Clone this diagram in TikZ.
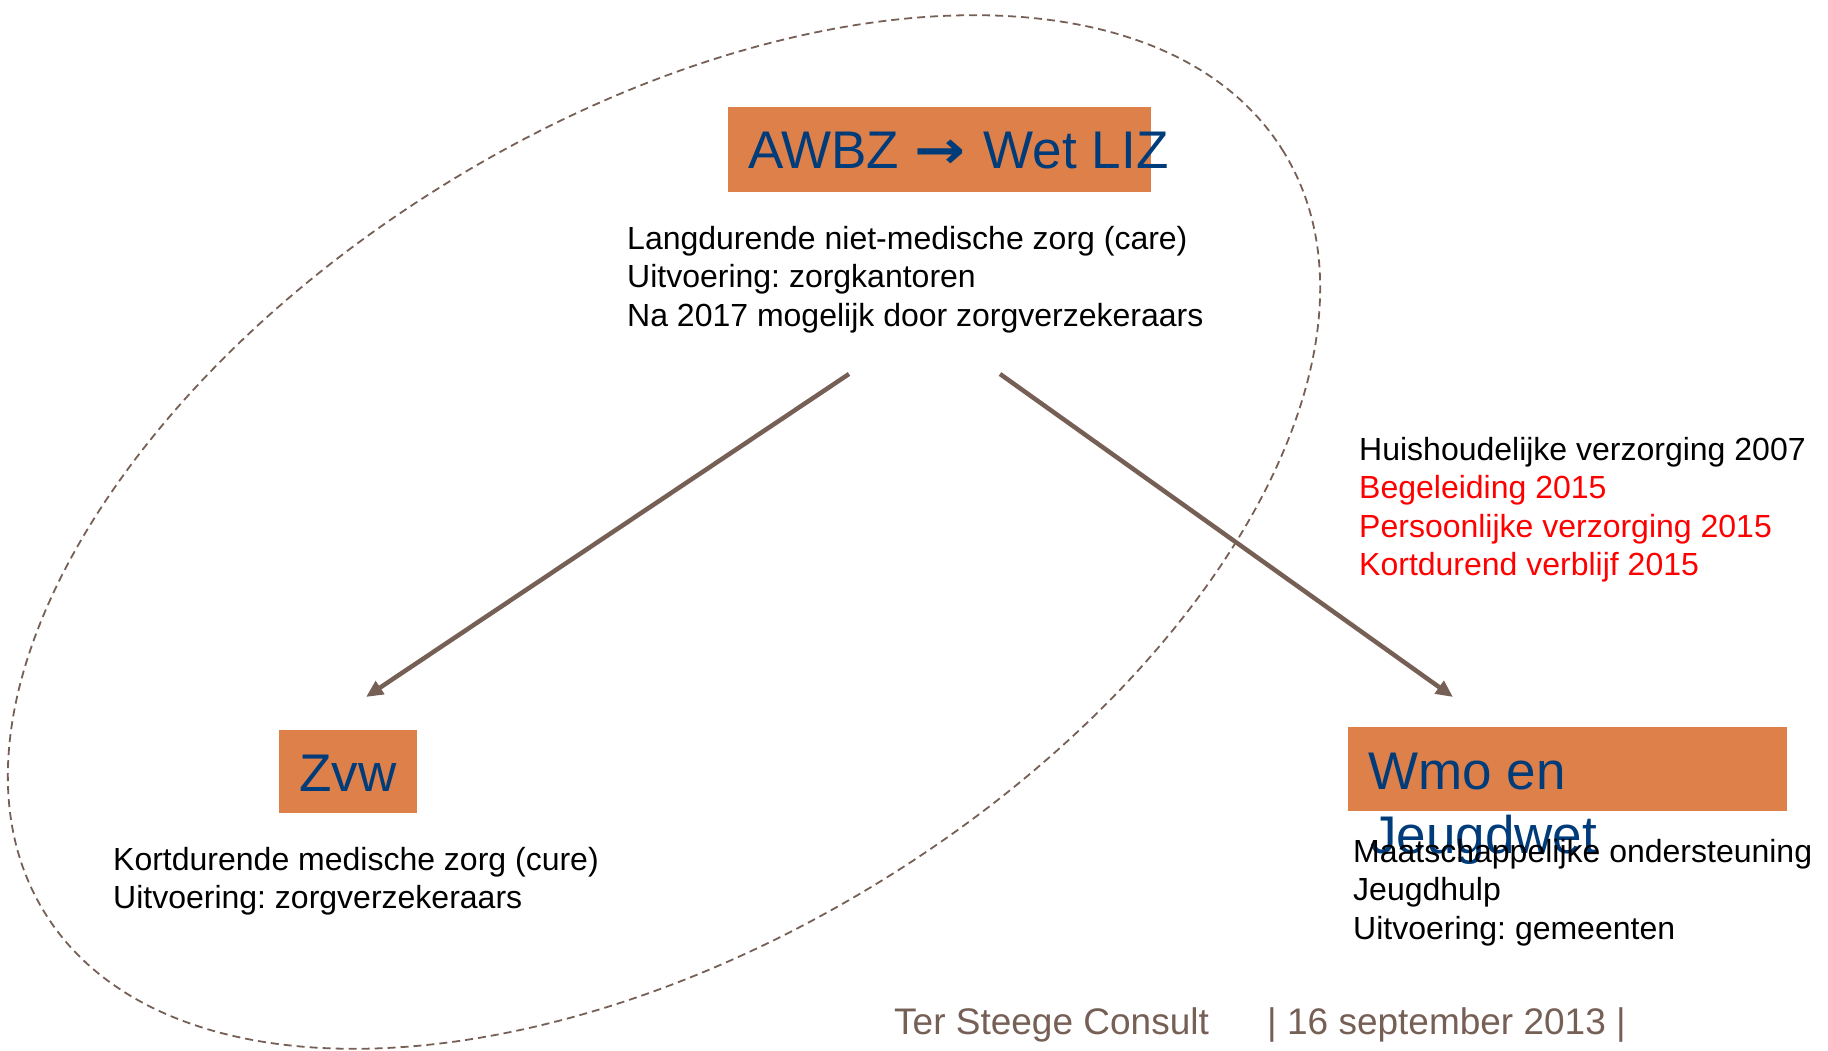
\documentclass[tikz,border=0pt]{standalone}
\usepackage{fontspec}
\setmainfont{Liberation Sans}
\newfontfamily\arrowfont{DejaVu Sans}
\usetikzlibrary{arrows.meta}
\definecolor{boxorange}{RGB}{221,128,73}
\definecolor{titleblue}{RGB}{0,59,122}
\definecolor{linebrown}{RGB}{118,96,86}
\definecolor{redtext}{RGB}{255,0,0}
\frenchspacing
\begin{document}
\begin{tikzpicture}[x=1pt,y=1pt,
  orangebox/.style={fill=boxorange, draw=none, inner sep=0pt, anchor=north west},
  titletext/.style={anchor=base west, inner sep=0pt, text=titleblue, font=\fontsize{53}{64}\selectfont},
  bodytext/.style={anchor=base west, inner sep=0pt, text=black, font=\fontsize{32}{38.5}\selectfont},
  redline/.style={bodytext, text=redtext},
  footertext/.style={anchor=base west, inner sep=0pt, text=linebrown, font=\fontsize{37}{44}\selectfont},
  conn/.style={draw=linebrown, line width=4.5pt, -{Triangle[length=17pt,width=15pt]}},
  ovalline/.style={draw=linebrown, line width=1.8pt, dash pattern=on 8pt off 5pt}
]
\useasboundingbox (0,0) rectangle (1828,-1051);

% dashed oval
\draw[ovalline, rotate around={31.5:(664,-532)}] (664,-532) ellipse [x radius=727pt, y radius=411pt];

% boxes
\node[orangebox, minimum width=423pt, minimum height=85pt] (awbzbox) at (728,-107) {};
\node[orangebox, minimum width=138pt, minimum height=83pt] (zvwbox) at (279,-730) {};
\node[orangebox, minimum width=439pt, minimum height=84pt] (wmobox) at (1348,-727) {};

% titles
\node[titletext] (awbz) at (748,-169) {AWBZ \scalebox{1.15}[1]{\arrowfont\bfseries →}\hspace{4pt} Wet LIZ};
\node[titletext] (zvw) at (299,-791) {Zvw};
\node[titletext] (wmo1) at (1368,-789) {Wmo en};
\node[titletext] (wmo2) at (1370,-853) {Jeugdwet};

% AWBZ description
\node[bodytext] (a1) at (627,-249) {Langdurende niet-medische zorg (care)};
\node[bodytext] (a2) at (627,-287.5) {Uitvoering: zorgkantoren};
\node[bodytext] (a3) at (627,-326) {Na 2017 mogelijk door zorgverzekeraars};

% transferred items
\node[bodytext] (r1) at (1359,-460) {Huishoudelijke verzorging 2007};
\node[redline] (r2) at (1359,-498.5) {Begeleiding 2015};
\node[redline] (r3) at (1359,-537) {Persoonlijke verzorging 2015};
\node[redline] (r4) at (1359,-575.5) {Kortdurend verblijf 2015};

% Zvw description
\node[bodytext] (z1) at (113,-870) {Kortdurende medische zorg (cure)};
\node[bodytext] (z2) at (113,-908.5) {Uitvoering: zorgverzekeraars};

% Wmo description
\node[bodytext] (w1) at (1353,-862) {Maatschappelijke ondersteuning};
\node[bodytext] (w2) at (1353,-900.5) {Jeugdhulp};
\node[bodytext] (w3) at (1353,-939) {Uitvoering: gemeenten};

% footer
\node[footertext] (f1) at (894,-1034) {Ter Steege Consult};
\node[footertext] (f2) at (1267,-1034) {| 16 september 2013 |};

% connectors
\coordinate (lstart) at (849,-374);
\coordinate (lend) at (366,-697);
\coordinate (rstart) at (1000,-374);
\coordinate (rend) at (1453,-697);
\draw[conn] (lstart) -- (lend);
\draw[conn] (rstart) -- (rend);
\end{tikzpicture}
\end{document}
